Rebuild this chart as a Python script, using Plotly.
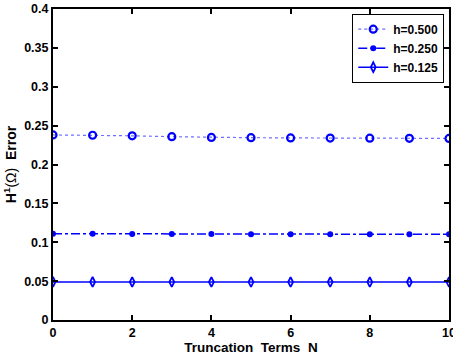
import plotly.graph_objects as go

# Truncation terms and H1 errors for each mesh size
N = list(range(11))
err_h500 = [0.2380, 0.2376, 0.2369, 0.2358, 0.2348, 0.2345, 0.2342, 0.2340, 0.2338, 0.2337, 0.2336]
err_h250 = [0.1110, 0.1109, 0.1107, 0.1106, 0.1105, 0.1104, 0.1104, 0.1103, 0.1103, 0.1102, 0.1102]
err_h125 = [0.0490, 0.0490, 0.0489, 0.0489, 0.0489, 0.0488, 0.0488, 0.0488, 0.0488, 0.0488, 0.0488]

y_ticks = [0, 0.05, 0.1, 0.15, 0.2, 0.25, 0.3, 0.35, 0.4]
y_labels = ["0", "0.05", "0.1", "0.15", "0.2", "0.25", "0.3", "0.35", "0.4"]
x_ticks = [0, 2, 4, 6, 8, 10]

BLUE = "rgb(0,0,255)"
FONT = "Liberation Sans, Arial, sans-serif"

fig = go.Figure()
fig.add_trace(go.Scatter(
    x=N, y=err_h500, name="<b>h=0.500</b>", mode="lines+markers",
    line=dict(color="rgb(110,110,255)", width=1.2, dash="dot"),
    marker=dict(symbol="circle-open", size=7, color=BLUE, line=dict(width=2.2)),
))
fig.add_trace(go.Scatter(
    x=N, y=err_h250, name="<b>h=0.250</b>", mode="lines+markers",
    line=dict(color=BLUE, width=1.5, dash="dashdot"),
    marker=dict(symbol="circle", size=6, color=BLUE),
))
fig.add_trace(go.Scatter(
    x=N, y=err_h125, name="<b>h=0.125</b>", mode="lines+markers",
    line=dict(color=BLUE, width=1.5),
    marker=dict(symbol="diamond-tall-open", size=7, color=BLUE, line=dict(width=1.8)),
))

axis_common = dict(
    showgrid=False, zeroline=False, showline=True, linecolor="black", linewidth=2,
    mirror="ticks", ticks="inside", ticklen=5, tickwidth=1.5, tickcolor="black",
    tickfont=dict(family=FONT, size=12.5, color="black"), automargin=False,
)

fig.update_xaxes(
    range=[0, 10], tickvals=x_ticks, ticktext=[f"<b>{v}</b>" for v in x_ticks],
    ticklabeloverflow="allow",
    title=dict(text="<b>Truncation  Terms  N</b>", font=dict(family=FONT, size=13.5, color="black"), standoff=3),
    **axis_common,
)
fig.update_yaxes(
    range=[0, 0.4], tickvals=y_ticks, ticktext=[f"<b>{t}</b>" for t in y_labels],
    title=dict(text="<b>H<sup>1</sup></b>(Ω)<b>  Error</b>", font=dict(family=FONT, size=14, color="black"), standoff=4),
    **axis_common,
)

fig.update_layout(
    width=453, height=357,
    margin=dict(l=53, r=4, t=9, b=37),
    paper_bgcolor="white", plot_bgcolor="white",
    showlegend=True,
    legend=dict(
        x=0.988, y=0.985, xanchor="right", yanchor="top",
        bgcolor="white", bordercolor="black", borderwidth=1,
        font=dict(family=FONT, size=12, color="black"),
        tracegroupgap=0, itemwidth=30,
    ),
)

fig.write_html("out.html")
